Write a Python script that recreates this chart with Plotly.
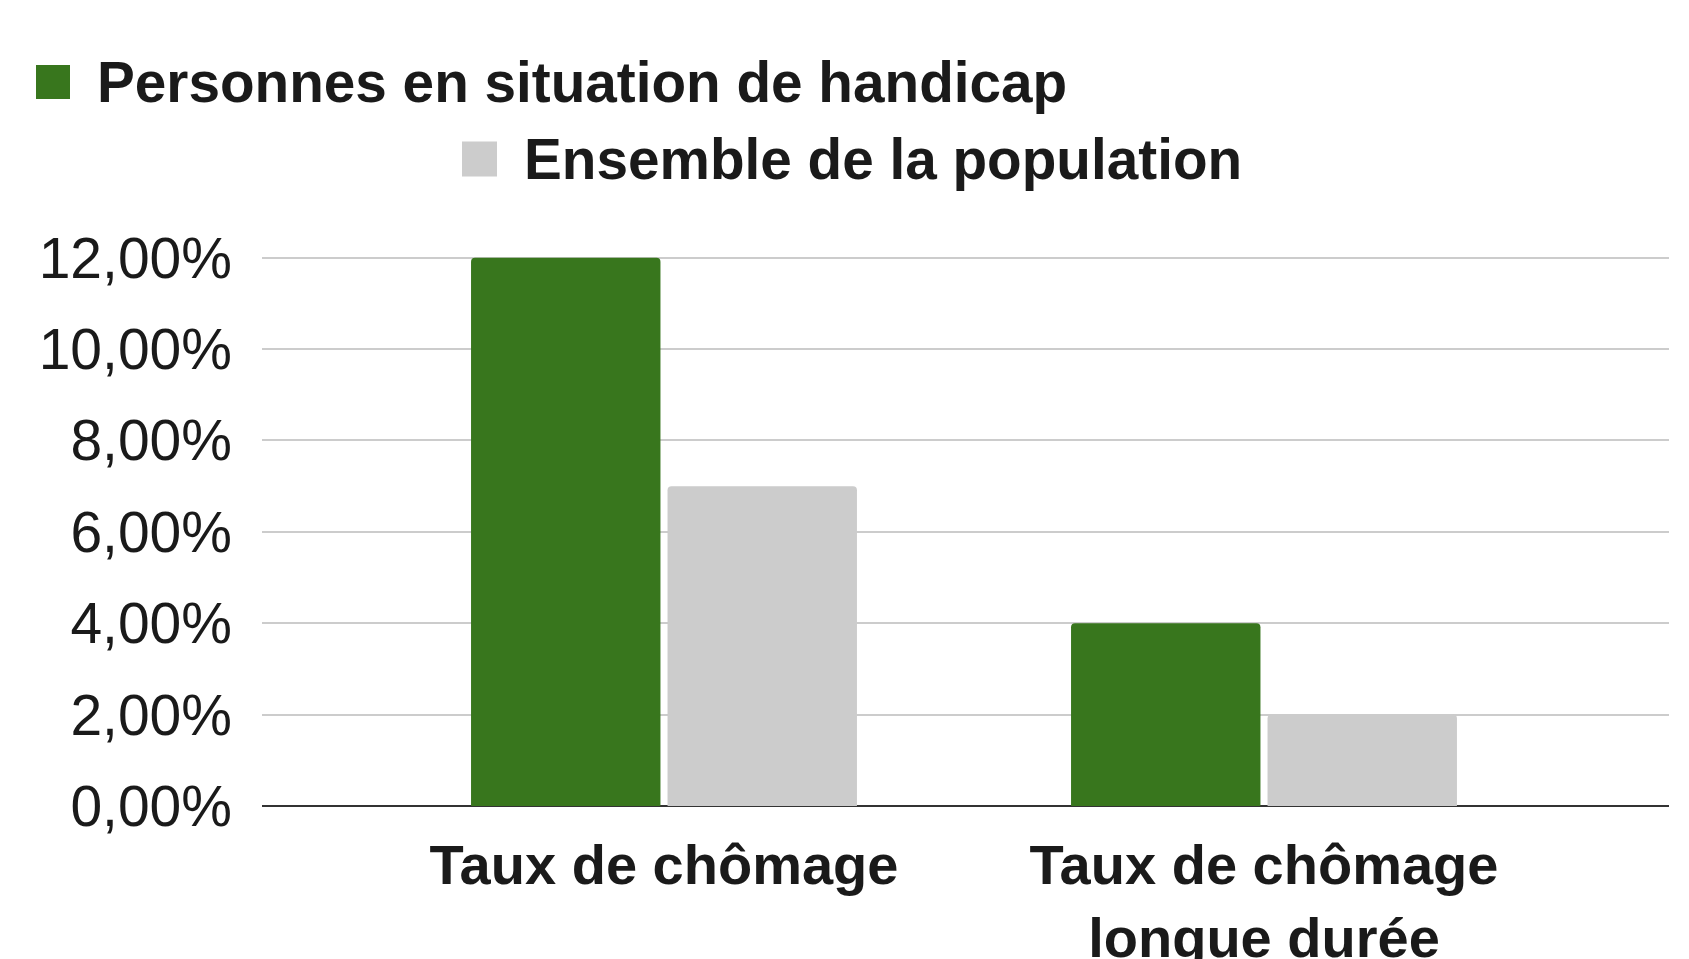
import plotly.graph_objects as go

categories = ["Taux de chômage", "Taux de chômage<br>longue durée"]
series_names = ["Personnes en situation de handicap", "Ensemble de la population"]
handicap = [0.12, 0.04]
population = [0.07, 0.02]
y_ticks = [0, 0.02, 0.04, 0.06, 0.08, 0.10, 0.12]
colors = ["#38761d", "#cccccc"]

W, H = 1689, 959
OFF = 8  # page body margin offset
ML, MR, MT, MB = 262 - OFF, 20 + OFF, 247, 153 + OFF
PW, PH = W - ML - MR, H - MT - MB


def px2x(px):
    return (px - OFF - ML) / PW


def py2y(py):
    return (H - MB - (py - OFF)) / PH


FONT = "Liberation Sans, Arial, sans-serif"
TXT = "#1a1a1a"

fig = go.Figure()
for name, vals, col in zip(series_names, [handicap, population], colors):
    fig.add_trace(go.Bar(
        x=categories, y=vals, name=name, marker=dict(color=col, line=dict(width=0), cornerradius=4),
        showlegend=False,
    ))

# legend drawn as shapes + text
legend_rows = [
    dict(sq=(36, 70), yc=82, tx=95),
    dict(sq=(462, 497), yc=159, tx=522),
]
for name, col, row in zip(series_names, colors, legend_rows):
    x0, x1 = row["sq"]
    s = x1 - x0
    fig.add_shape(type="rect", xref="paper", yref="paper",
                  x0=px2x(x0), x1=px2x(x1), y0=py2y(row["yc"] + s / 2), y1=py2y(row["yc"] - s / 2),
                  fillcolor=col, line=dict(width=0))
    fig.add_annotation(xref="paper", yref="paper", x=px2x(row["tx"]), y=py2y(row["yc"]),
                       xanchor="left", yanchor="middle", showarrow=False, text=name,
                       font=dict(family=FONT, size=56.7, color=TXT, weight="bold"))

fig.update_layout(
    width=W, height=H,
    margin=dict(l=ML, r=MR, t=MT, b=MB, pad=0, autoexpand=False),
    paper_bgcolor="white", plot_bgcolor="white",
    barmode="group", bargap=0.345, bargroupgap=0.036,
    separators=", ",
    font=dict(family=FONT, color=TXT),
)
fig.update_xaxes(
    range=[-0.67, 1.675], showgrid=False, showline=False, ticks="", automargin=False,
    tickfont=dict(family=FONT, size=56, color=TXT, weight="bold"),
    ticklabelstandoff=21,
)
fig.update_yaxes(
    range=[0, 0.1206], tickvals=y_ticks, tickformat=".2%", automargin=False,
    showgrid=True, gridcolor="#cccccc", gridwidth=2,
    zeroline=True, zerolinecolor="#333333", zerolinewidth=2,
    showline=False, ticks="",
    tickfont=dict(family=FONT, size=57, color=TXT),
    ticklabelstandoff=29,
)

fig.write_html("out.html")
